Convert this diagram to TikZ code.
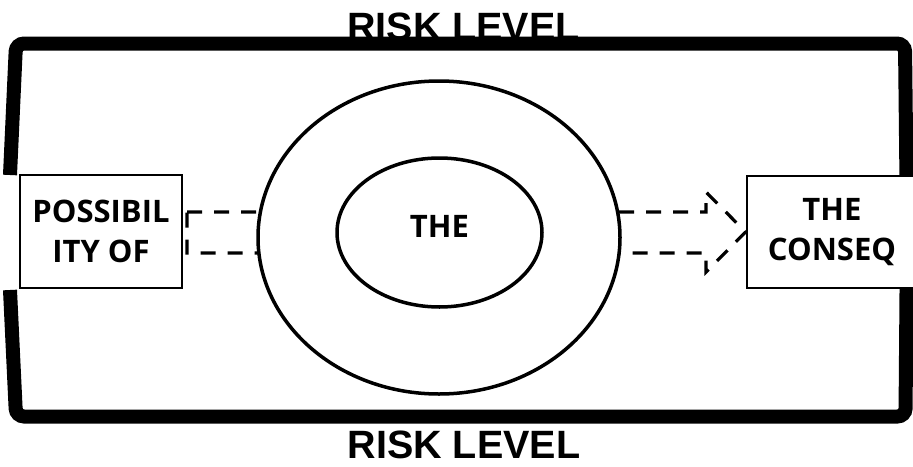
\documentclass[tikz,border=0pt]{standalone}
\usepackage{fontspec}
\usetikzlibrary{shapes.geometric}
\newfontfamily\boxfont{Open Sans}
\newfontfamily\titlefont{Liberation Sans}
\begin{document}
\begin{tikzpicture}[x=1pt, y=-1pt,
  frameline/.style={line width=14pt, line cap=butt, rounded corners=8pt},
  risklabel/.style={inner sep=0pt, font=\titlefont\bfseries\fontsize{39.5}{40}\selectfont},
  boxtext/.style={font=\boxfont\bfseries\fontsize{31}{40}\selectfont, align=center},
  sidebox/.style={draw, fill=white, line width=2.8pt, boxtext},
  ring/.style={draw, ellipse, fill=white, line width=3.5pt, inner sep=0pt},
  dasharrow/.style={line width=3.2pt, dash pattern=on 15pt off 12pt}]
  \useasboundingbox (0,0) rectangle (913,466);
  \node[risklabel] (toprisk) at (463.5,26.5) {RISK LEVEL};
  \node[risklabel] (botrisk) at (464,445) {RISK LEVEL};
  \draw[frameline] (10,175) -- (16,43.5) -- (905,43.5) -- (907,230) -- (905.5,416.5) -- (16,416.5) -- (10,290);
  \node[sidebox, minimum width=170, minimum height=112] (conseq) at (832,232) {THE\\CONSEQ};
  \draw[dasharrow] (187,212) -- (706,212) -- (706,192) -- (conseq.west) -- (706,272) -- (706,253) -- (187,253) -- cycle;
  \node[ring, minimum width=362, minimum height=313] (outerell) at (439,237.5) {};
  \node[ring, minimum width=205, minimum height=149] (innerell) at (439.5,232.5) {};
  \node[boxtext, inner sep=0pt] (the) at (439.5,226.5) {THE};
  \node[sidebox, minimum width=162, minimum height=113] (possib) at (101,231.5) {POSSIBIL\\ITY OF};
\end{tikzpicture}
\end{document}
